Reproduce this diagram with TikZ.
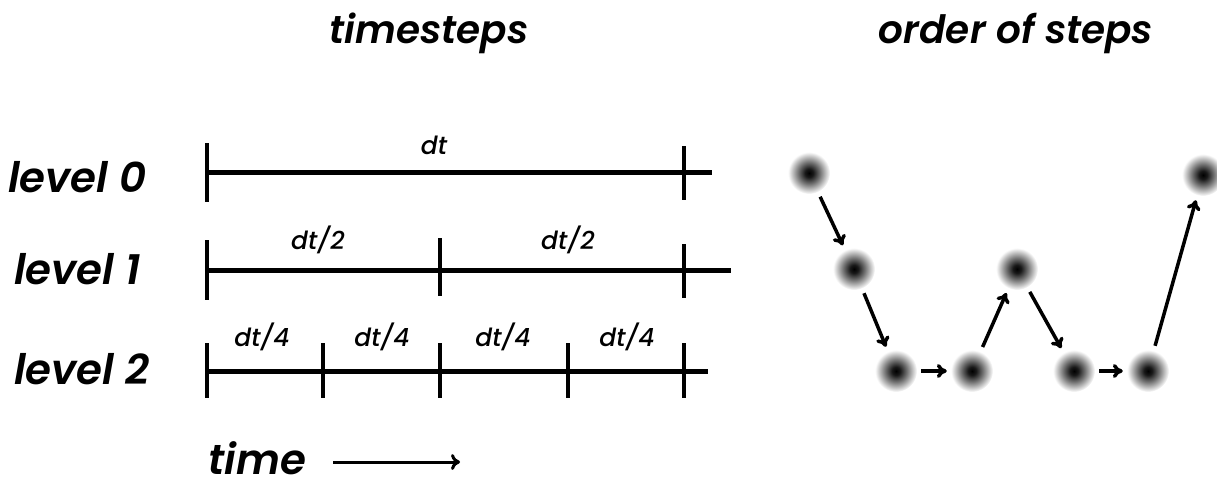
\documentclass[tikz,border=0pt]{standalone}
\usepackage{fontspec}
\setmainfont{Poppins}[UprightFont=* Medium, ItalicFont=* Medium Italic, BoldFont=* SemiBold, BoldItalicFont=* SemiBold Italic]
\usetikzlibrary{arrows.meta}
\pgfdeclareradialshading{dotshade}{\pgfpoint{0bp}{0bp}}{color(0bp)=(black); color(5bp)=(black!90); color(13bp)=(black!55); color(25bp)=(white); color(50bp)=(white)}
\begin{document}
\begin{tikzpicture}[x=1pt,y=-1pt,
  bar/.style={line width=5pt},
  tick/.style={line width=4.5pt},
  lbl/.style={font=\fontsize{42}{44}\selectfont\bfseries\itshape, inner sep=0pt},
  ttl/.style={font=\fontsize{39}{41}\selectfont\bfseries\itshape, inner sep=0pt},
  seg/.style={font=\fontsize{25}{27}\selectfont\itshape, inner sep=0pt},
  dot/.style={circle, minimum size=42pt, inner sep=0pt, shading=dotshade},
  stepar/.style={line width=3.5pt, -{To[length=10pt,width=14pt]}, shorten <=5pt, shorten >=5pt}]
\useasboundingbox (0,0) rectangle (1217,487);
% titles
\node[ttl] (t1) at (429,33) {timesteps};
\node[ttl] (t2) at (1016,33) {order of steps};
% level labels
\node[lbl, anchor=west] (l0) at (8,177) {level 0};
\node[lbl, anchor=west] (l1) at (14,269) {level 1};
\node[lbl, anchor=west] (l2) at (14,369) {level 2};
% level 0
\coordinate (a0) at (207,172); \coordinate (a1) at (712,172);
\draw[bar] (a0) -- (a1);
\draw[tick] (207,143) -- (207,202);
\draw[tick] (684,146) -- (684,200);
\node[seg] (s0) at (434,145) {dt};
% level 1
\coordinate (b0) at (207,270); \coordinate (b1) at (731,270);
\draw[bar] (b0) -- (b1);
\draw[tick] (207,240) -- (207,300);
\draw[tick] (440,238) -- (440,296);
\draw[tick] (684,244) -- (684,298);
\node[seg] (s10) at (318,240) {dt/2};
\node[seg] (s11) at (568,240) {dt/2};
% level 2
\coordinate (c0) at (207,371); \coordinate (c1) at (708,371);
\draw[bar] (c0) -- (c1);
\foreach \x in {207,323,440,568,684} \draw[tick] (\x,343) -- (\x,398);
\node[seg] (s20) at (262,337) {dt/4};
\node[seg] (s21) at (382,337) {dt/4};
\node[seg] (s22) at (503,337) {dt/4};
\node[seg] (s23) at (627,337) {dt/4};
% time arrow
\node[lbl, anchor=west] (tm) at (208,458) {time};
\coordinate (ta) at (333,462); \coordinate (tb) at (460,462);
\draw[line width=3pt, -{To[length=9pt,width=16pt]}] (ta) -- (tb);
% dots
\node[dot] (d1) at (809,173) {};
\node[dot] (d2) at (854,269) {};
\node[dot] (d3) at (896,371) {};
\node[dot] (d4) at (972,371) {};
\node[dot] (d5) at (1017,269) {};
\node[dot] (d6) at (1074,371) {};
\node[dot] (d7) at (1148,371) {};
\node[dot] (d8) at (1203,175) {};
\draw[stepar] (d1) -- (d2);
\draw[stepar] (d2) -- (d3);
\draw[stepar, shorten <=4pt, shorten >=4pt] (d3) -- (d4);
\draw[stepar] (d4) -- (d5);
\draw[stepar] (d5) -- (d6);
\draw[stepar, shorten <=4pt, shorten >=4pt] (d6) -- (d7);
\draw[stepar] (d7) -- (d8);
\end{tikzpicture}
\end{document}
